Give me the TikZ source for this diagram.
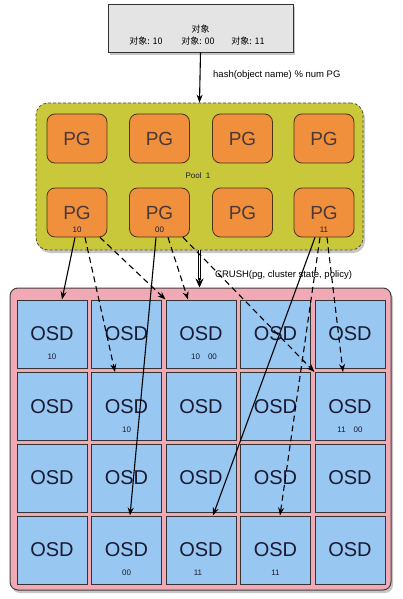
\documentclass[tikz,border=0pt]{standalone}
\usepackage{fontspec}
\setmainfont{Liberation Sans}
\newfontfamily\cjk{Noto Sans CJK SC}
\usetikzlibrary{shadows,calc,arrows.meta}
\definecolor{boxgray}{HTML}{E4E4E4}
\definecolor{poolyel}{HTML}{C8C83A}
\definecolor{pgor}{HTML}{F0903C}
\definecolor{pinkbg}{HTML}{F2A9B6}
\definecolor{osdblue}{HTML}{98C8F2}
\definecolor{txtdark}{HTML}{1A1A33}
\begin{document}
\begin{tikzpicture}[x=1pt,y=-1pt,
 shadowed/.style={drop shadow={shadow xshift=2pt,shadow yshift=-3pt,opacity=0.45}},
 topbox/.style={draw=black!80,line width=0.8pt,fill=boxgray,minimum width=185pt,minimum height=48pt,inner sep=0pt,shadowed},
 poolbox/.style={draw=black!55!olive,line width=0.7pt,dash pattern=on 3pt off 2pt,fill=poolyel,rounded corners=12pt,minimum width=327pt,minimum height=147pt,inner sep=0pt,shadowed},
 pinkbox/.style={draw=black!75,line width=1pt,fill=pinkbg,rounded corners=8pt,minimum width=381pt,minimum height=302pt,inner sep=0pt,shadowed},
 pgbox/.style={draw=black!60!brown,line width=0.8pt,fill=pgor,rounded corners=8pt,minimum width=60pt,minimum height=49pt,inner sep=0pt,font=\fontsize{19}{20}\selectfont,text=txtdark!70!brown},
 osdbox/.style={draw=black!80,line width=1pt,fill=osdblue,minimum width=70pt,minimum height=68pt,inner sep=0pt,font=\fontsize{20}{22}\selectfont,text=txtdark},
 small/.style={font=\fontsize{8}{9}\selectfont,text=txtdark,inner sep=0pt},
 lbl/.style={font=\fontsize{9.5}{11}\selectfont,text=black,inner sep=0pt,anchor=west},
 conn/.style={-{Stealth[length=8pt,width=6pt]},line width=1.1pt},
 dconn/.style={conn,dash pattern=on 6pt off 4pt}]
\useasboundingbox (0,0) rectangle (403,599);
% top object box
\node[topbox] (obj) at (200.5,28) {};
\node[font=\cjk\fontsize{9}{10}\selectfont,inner sep=0pt] (objt) at (200.5,29) {对象};
\node[font=\cjk\fontsize{9}{10}\selectfont,inner sep=0pt] (o10t) at (146,41) {对象: 10};
\node[font=\cjk\fontsize{9}{10}\selectfont,inner sep=0pt] (o00t) at (198,41) {对象: 00};
\node[font=\cjk\fontsize{9}{10}\selectfont,inner sep=0pt] (o11t) at (248,41) {对象: 11};
% pool
\node[poolbox] (pool) at (199.5,176.5) {};
\node[pgbox] (pga) at (77,138.5) {PG};
\node[pgbox] (pgb) at (159.5,138.5) {PG};
\node[pgbox] (pgc) at (242.5,138.5) {PG};
\node[pgbox] (pgd) at (324,138.5) {PG};
\node[pgbox] (pg10) at (77,212.5) {PG};
\node[pgbox] (pg00) at (159.5,212.5) {PG};
\node[pgbox] (pgg) at (242.5,212.5) {PG};
\node[pgbox] (pg11) at (324,212.5) {PG};
\node[small] (l10) at (77,230) {10};
\node[small] (l00) at (159.5,230) {00};
\node[small] (l11) at (324,230) {11};
\node[small] (poolt) at (198,176) {Pool\ \ 1};
\draw[conn] (obj.south) -- (pool.north);
\node[lbl] (hasht) at (213,75) {hash(object name) \% num PG};
% OSD container
\node[pinkbox] (pink) at (200.5,439) {};
\foreach \r/\y in {1/334,2/406.5,3/478,4/550}{
  \foreach \c/\x in {1/52,2/126.5,3/201,4/275.5,5/350}{
    \node[osdbox] (o\r\c) at (\x,\y) {OSD};
  }
}
\node[small] (s11) at (52,357) {10};
\node[small] (s13) at (204,357) {10\hspace{8pt}00};
\node[small] (s22) at (126.5,430) {10};
\node[small] (s25) at (350,430) {11\hspace{8pt}00};
\node[small] (s42) at (126.5,573) {00};
\node[small] (s43) at (198,573) {11};
\node[small] (s44) at (275.5,573) {11};
% CRUSH arrow
\coordinate (ctip) at (pool.south |- pink.north);
\draw[double,double distance=1.6pt,line width=0.7pt,shorten >=8pt] (pool.south) -- (ctip);
\draw[-{Stealth[length=9pt,width=8pt]},line width=0.7pt] ($(ctip)+(0,-10)$) -- (ctip);
\node[lbl] (crusht) at (215,275) {CRUSH(pg, cluster state, policy)};
% PG -> OSD mappings
\draw[conn] ($(pg10.south)+(-2,0)$) -- ($(o11.north)+(10,0)$);
\draw[dconn] ($(pg10.south)+(8,0)$) -- ($(o22.north)+(-11.5,0)$);
\draw[dconn] ($(pg10.south)+(23,0)$) -- (o13.north west);
\draw[conn] ($(pg00.south)+(-3.5,0)$) -- ($(o42.north)+(3.5,0)$);
\draw[dconn] ($(pg00.south)+(8.5,0)$) -- ($(o13.north)+(-13,0)$);
\draw[dconn] ($(pg00.south)+(23.5,0)$) -- (o25.north west);
\draw[conn] ($(pg11.south)+(-9,0)$) -- ($(o43.north)+(12,0)$);
\draw[dconn] ($(pg11.south)+(-4,0)$) -- ($(o44.north)+(4.5,0)$);
\draw[dconn] ($(pg11.south)+(3,0)$) -- ($(o25.north)+(-7,0)$);
\end{tikzpicture}
\end{document}
